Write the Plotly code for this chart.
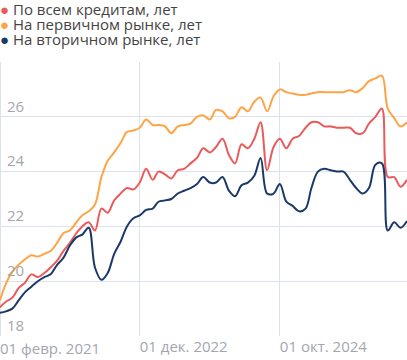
import plotly.graph_objects as go
import pandas as pd

dates = pd.date_range("2021-02-01", periods=65, freq="MS")

series_names = ["По всем кредитам, лет", "На первичном рынке, лет", "На вторичном рынке, лет"]
series_colors = ["#EB5A5A", "#FFA445", "#1B3968"]

all_loans = [19.05, 19.25, 19.4, 19.75, 19.95, 20.25, 20.15, 20.3, 20.5, 20.75,
             21.1, 21.4, 21.75, 22.0, 22.15, 21.85, 22.65, 22.5, 22.95, 23.2,
             23.4, 23.35, 23.6, 24.1, 23.7, 24.0, 23.9, 23.75, 24.05, 24.1,
             24.3, 24.5, 24.85, 24.7, 24.9, 25.2, 24.6, 24.3, 25.0, 24.85,
             25.2, 25.8, 24.05, 24.9, 25.2, 24.85, 25.2, 25.3, 25.6, 25.8,
             25.8, 25.65, 25.65, 25.6, 25.6, 25.6, 25.4, 25.4, 25.75, 26.0,
             26.3, 23.8, 23.8, 23.45, 23.7]

primary = [19.3, 19.9, 20.35, 20.6, 20.8, 20.95, 20.9, 21.0, 21.1, 21.4,
           21.75, 21.85, 22.15, 22.4, 22.55, 22.8, 23.8, 24.4, 24.7, 25.05,
           25.45, 25.5, 25.6, 25.9, 25.7, 25.7, 25.65, 25.4, 25.65, 25.7,
           25.75, 26.0, 26.05, 25.9, 26.25, 26.2, 25.95, 26.0, 26.35, 26.2,
           26.55, 26.7, 26.2, 26.75, 27.0, 26.9, 26.85, 26.8, 26.8, 26.85,
           26.9, 26.9, 26.9, 26.9, 26.9, 26.97, 26.9, 27.05, 27.3, 27.4,
           27.5, 26.3, 25.95, 25.65, 25.8]

secondary = [18.85, 18.9, 19.0, 19.3, 19.6, 19.8, 20.0, 20.15, 20.25, 20.6,
             20.85, 21.3, 21.6, 21.7, 21.95, 20.5, 20.05, 20.3, 21.0, 21.45,
             22.0, 22.3, 22.4, 22.6, 22.65, 22.9, 22.95, 23.0, 23.2, 23.3,
             23.4, 23.55, 23.8, 23.6, 23.6, 23.8, 23.3, 23.1, 23.5, 23.6,
             23.85, 24.5, 23.2, 23.2, 23.55, 22.9, 22.75, 22.55, 22.65, 23.4,
             24.0, 24.1, 24.05, 24.0, 24.0, 23.7, 23.4, 23.2, 23.4, 24.25,
             24.3, 21.85, 22.15, 21.95, 22.2]

x_tick_dates = ["2021-02-01", "2022-12-01", "2024-10-01"]
x_tick_text = ["01 февр. 2021", "01 дек. 2022", "01 окт. 2024"]
y_tick_vals = [18, 20, 22, 24, 26, 28]
y_tick_text = ["18", "20", "22", "24", "26", ""]

GRID = "#dde2f0"
TICK_COLOR = "#a3a6b0"

fig = go.Figure()
for name, color, vals in zip(series_names, series_colors, [all_loans, primary, secondary]):
    fig.add_trace(go.Scatter(x=dates, y=vals, mode="lines", name=name,
                             line=dict(color=color, width=2, shape="spline", smoothing=1.0),
                             showlegend=False, hoverinfo="skip"))

for i, (name, color) in enumerate(zip(series_names, series_colors)):
    fig.add_annotation(xref="paper", yref="paper", x=0, y=1, xanchor="left", yanchor="middle",
                       yshift=62 - 9 - i * 15, xshift=-1, borderpad=0,
                       text=f"<span style='color:{color}'>●</span> {name}",
                       showarrow=False, align="left",
                       font=dict(family="Open Sans", size=15, color="#444444"))

# first x tick (at the left edge of the axis range): gridline and label
fig.add_shape(type="line", xref="x", yref="paper", x0=x_tick_dates[0], x1=x_tick_dates[0],
              y0=0, y1=1, line=dict(color=GRID, width=2), layer="below")
fig.add_annotation(xref="x", yref="paper", x=x_tick_dates[0], y=0, xanchor="left",
                   yanchor="top", xshift=-1, yshift=-1, borderpad=0, showarrow=False,
                   text=x_tick_text[0], font=dict(family="Open Sans", size=15, color=TICK_COLOR))

fig.update_layout(
    width=407, height=360,
    margin=dict(l=0, r=0, t=62, b=24),
    paper_bgcolor="white", plot_bgcolor="white",
    font=dict(family="Open Sans", size=15, color=TICK_COLOR),
    xaxis=dict(range=[dates[0], dates[-1]], tickvals=x_tick_dates[1:], ticktext=x_tick_text[1:],
               ticklabelposition="outside right",
               showgrid=True, gridcolor=GRID,
               gridwidth=1, zeroline=False, showline=False, ticks="",
               tickfont=dict(size=15, color=TICK_COLOR)),
    yaxis=dict(range=[18, 28], tickvals=y_tick_vals, ticktext=y_tick_text,
               ticklabelposition="inside top", ticklabelstandoff=4,
               showgrid=True, gridcolor=GRID,
               gridwidth=1, zeroline=False, showline=False, ticks="",
               tickfont=dict(size=15, color=TICK_COLOR)),
)

fig.write_html("out.html")
